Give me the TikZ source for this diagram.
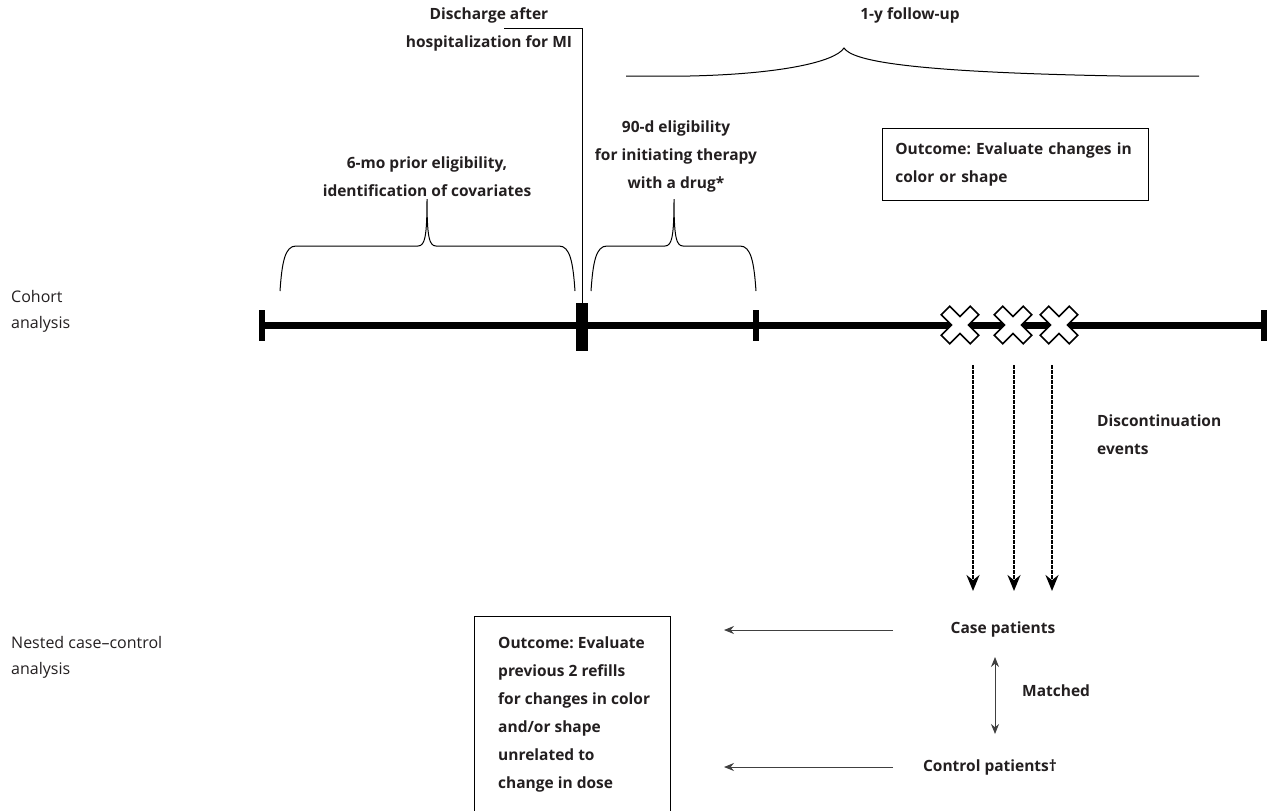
\documentclass[tikz,border=0pt]{standalone}
\usepackage{fontspec}
\setmainfont{Open Sans}
\usetikzlibrary{arrows.meta,positioning}
\definecolor{inkgray}{RGB}{35,31,32}
\frenchspacing

% curly brace standing on the timeline, #1 left end, #2 right end, #3 tip
\newcommand{\upbrace}[3]{%
  \draw[brace] (#1,291) .. controls (#1+2,262) and (#1+5,246) .. (#1+16,246)
    -- (#3-9,246) .. controls (#3-2,246) and (#3,236) .. (#3,199)
    .. controls (#3,236) and (#3+2,246) .. (#3+9,246)
    -- (#2-16,246) .. controls (#2-5,246) and (#2-2,262) .. (#2,291);}

\tikzset{xmark/.pic={
  \draw[fill=white, line width=1.6pt, rotate=45]
    (-6,-20.5) -- (6,-20.5) -- (6,-6) -- (20.5,-6) -- (20.5,6)
    -- (6,6) -- (6,20.5) -- (-6,20.5) -- (-6,6) -- (-20.5,6)
    -- (-20.5,-6) -- (-6,-6) -- cycle;}}

\begin{document}
\begin{tikzpicture}[x=1pt,y=-1pt,
  every node/.style={font=\fontsize{15.5}{28}\selectfont\bfseries, text=inkgray, inner sep=0pt},
  lbl/.style={align=center},
  side/.style={font=\fontsize{16}{26}\selectfont, align=left, anchor=west},
  outbox/.style={draw, line width=0.8pt, align=left, anchor=north west},
  tickmark/.style={fill=black, minimum width=6pt, minimum height=31pt},
  leftarrow/.style={-{Stealth[length=10pt,width=8pt]}, line width=1pt, draw=black!75},
  eventarrow/.style={-{Stealth[length=16pt,width=13pt]}, line width=2pt, dash pattern=on 3.5pt off 1.5pt},
  brace/.style={line width=1pt}]
\useasboundingbox (0,0) rectangle (1267,811);

% timeline
\coordinate (tlstart) at (262,325);
\coordinate (tlend) at (1264,325);
\draw[line width=7pt] (tlstart) -- (tlend);
\node[tickmark] (tickL) at (tlstart) {};
\node[tickmark] (tickR) at (tlend) {};
\node[tickmark] (tickM) at (756,325) {};
\node[fill=black, minimum width=12pt, minimum height=48pt] (dischg) at (582,327) {};
\pic at (960,325) {xmark};
\pic at (1013,325) {xmark};
\pic at (1059,325) {xmark};

% row labels
\node[side] (cohort) at (11,311) {Cohort\\analysis};
\node[side] (nested) at (11,657) {Nested case--control\\analysis};

% discharge
\node[lbl] (dlabel) at (489,29) {Discharge after\\hospitalization for MI};
\coordinate (dline) at (504,28);
\draw[line width=0.8pt] (dline) -| (dischg.north);

% braces
\node[lbl] (prior) at (427,177) {6-mo prior eligibility,\\identification of covariates};
\upbrace{280}{575}{427}
\node[lbl] (elig) at (676,156) {90-d eligibility\\for initiating therapy\\with a drug*};
\upbrace{591}{756}{674}
\node[lbl] (follow) at (910,15) {1-y follow-up};
\draw[brace] (626,76) -- (690,76) .. controls (780,74) and (835,62) .. (844,48)
  .. controls (852,60) and (900,72) .. (1120,76) -- (1199,76);

\node[outbox, text width=240pt, inner xsep=13pt, inner ysep=14pt, minimum height=69pt] (cohortout) at (882,128)
  {Outcome: Evaluate changes in\\color or shape};

% discontinuation
\foreach \x [count=\i] in {973,1014,1052}{
  \coordinate (ev\i) at (\x,365);
  \coordinate (evend\i) at (\x,591);
  \draw[eventarrow] (ev\i) -- (evend\i);
}
\node[lbl, align=left, anchor=west] (disc) at (1097,435) {Discontinuation\\events};

% nested case-control
\node (case) at (1003,629) {Case patients};
\node (control) at (990,767) {Control patients\textdagger};
\coordinate (m1) at (995,657);
\coordinate (m2) at (995,734);
\draw[{Stealth[length=10pt,width=8pt]}-{Stealth[length=10pt,width=8pt]}, line width=1pt, draw=black!75] (m1) -- (m2);
\node[anchor=west] (matched) at (1022,691) {Matched};

\node[align=left, anchor=north west] (ccout) at (498,637)
  {Outcome: Evaluate\\previous 2 refills\\for changes in color\\and/or shape\\unrelated to\\change in dose};
\draw[line width=0.8pt] (474,811) |- (670,616) -- (670,811);

\coordinate (casearr) at (893,630);
\coordinate (ctrlarr) at (893,767);
\draw[leftarrow] (casearr) -- (casearr -| 724,0);
\draw[leftarrow] (ctrlarr) -- (ctrlarr -| 724,0);
\end{tikzpicture}
\end{document}
